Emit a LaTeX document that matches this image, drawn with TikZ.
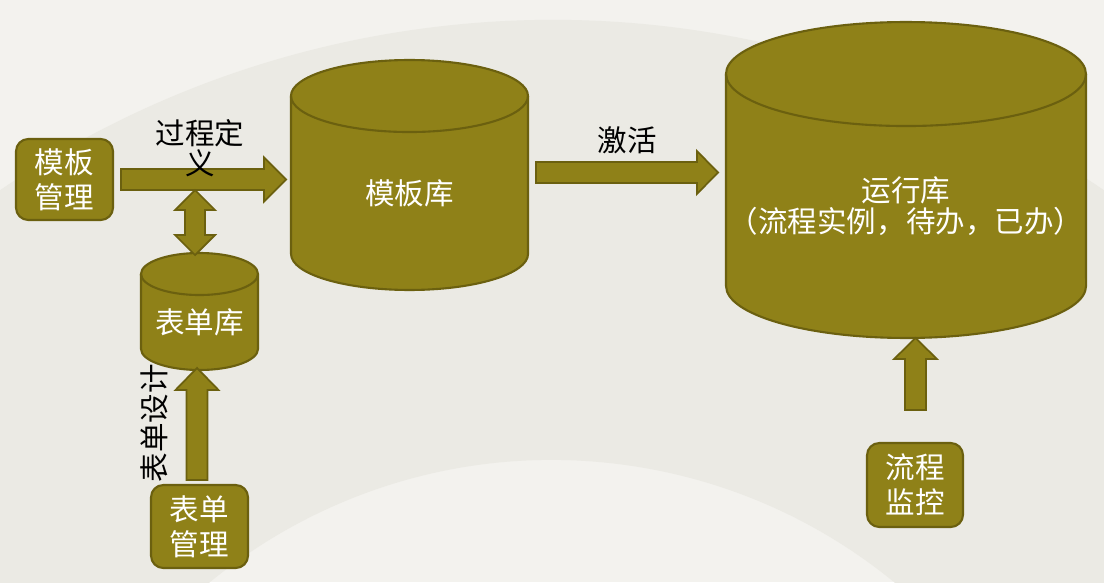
\documentclass[tikz,border=0pt]{standalone}
\usepackage{fontspec}
\setmainfont{Noto Sans CJK SC}
\usetikzlibrary{calc,positioning,backgrounds}
\definecolor{olive}{HTML}{8F8118}
\definecolor{darkolive}{HTML}{6B600F}
\definecolor{paper}{HTML}{F3F2EE}
\definecolor{fanpaper}{HTML}{EBEAE4}

% fat arrow: start, tip, shaft half width, head half width, head length
\newcommand\blockarrow[5]{%
  \coordinate (bas) at (#1);
  \coordinate (bae) at (#2);
  \coordinate (bah) at ($(bae)!#5!(bas)$);
  \draw[blk] ($(bas)!#3!90:(bae)$) -- ($(bah)!#3!90:(bae)$)
    -- ($(bah)!#4!90:(bae)$) -- (bae) -- ($(bah)!#4!-90:(bae)$)
    -- ($(bah)!#3!-90:(bae)$) -- ($(bas)!#3!-90:(bae)$) -- cycle;
}
% fat arrow with a head at both ends
\newcommand\dblarrow[5]{%
  \coordinate (bas) at (#1);
  \coordinate (bae) at (#2);
  \coordinate (bah) at ($(bae)!#5!(bas)$);
  \coordinate (bag) at ($(bas)!#5!(bae)$);
  \draw[blk] (bas) -- ($(bag)!#4!-90:(bae)$) -- ($(bag)!#3!-90:(bae)$)
    -- ($(bah)!#3!-90:(bae)$) -- ($(bah)!#4!-90:(bae)$) -- (bae)
    -- ($(bah)!#4!90:(bae)$) -- ($(bah)!#3!90:(bae)$)
    -- ($(bag)!#3!90:(bae)$) -- ($(bag)!#4!90:(bae)$) -- cycle;
}
% database drum round a body node: node, x radius, y radius
\newcommand\database[3]{%
  \draw[dbshape] (#1.north west) -- ($(#1.south west)+(0,#3)$)
    arc[start angle=180, end angle=360, x radius=#2, y radius=#3]
    -- (#1.north east)
    arc[start angle=0, end angle=180, x radius=#2, y radius=#3] -- cycle;
  \draw[dbshape, fill=none] (#1.north west)
    arc[start angle=180, end angle=360, x radius=#2, y radius=#3];
}

\begin{document}
\begin{tikzpicture}[
  x=0.02cm, y=0.02cm,
  font=\fontsize{16.8}{20}\selectfont,
  mgr/.style={
    draw=darkolive,
    line width=1.2pt,
    fill=olive,
    rounded corners=7pt,
    text=white,
    align=center,
    inner sep=0pt
  },
  db/.style={
    text=white,
    align=center,
    inner sep=0pt,
    outer sep=0pt
  },
  dbshape/.style={draw=darkolive, line width=1.2pt, fill=olive},
  blk/.style={draw=darkolive, line width=1pt, fill=olive},
  lbl/.style={text=black, align=center, inner sep=0pt}
]
\useasboundingbox (0,0) rectangle (1104,582);

\node[mgr, minimum width=1.94cm, minimum height=1.62cm] (tplmgr) at (64.5,402.5) {模板\\管理};
\node[mgr, minimum width=1.94cm, minimum height=1.66cm] (formmgr) at (199.5,55.5) {表单\\管理};
\node[mgr, minimum width=1.92cm, minimum height=1.68cm] (monitor) at (915,97) {流程\\监控};

\node[db, minimum width=4.74cm, minimum height=3.88cm] (tpldb) at (409.5,389) {模板库};
\node[db, minimum width=2.34cm, minimum height=1.92cm] (formdb) at (199.5,260) {表单库};
\node[db, minimum width=7.2cm, minimum height=5.28cm, font=\fontsize{16.8}{17.6}\selectfont] (rundb) at (906,376) {运行库\\（流程实例，待办，已办）};

\begin{pgfonlayer}{background}
  \fill[paper] (0,0) rectangle (1104,582);
  \begin{scope}
    \clip (0,0) rectangle (1104,582);
    \fill[fanpaper] ([shift={(10:980)}]552,-418) arc[start angle=10, end angle=170, radius=980]
      -- ([shift={(170:540)}]552,-418) arc[start angle=170, end angle=10, radius=540] -- cycle;
  \end{scope}
  \database{tpldb}{118.5}{36}
  \database{formdb}{58.5}{21}
  \database{rundb}{180}{52}
\end{pgfonlayer}

\blockarrow{$(tplmgr.east)+(7,0)$}{$(tplmgr.east -| tpldb.west)+(-5,0)$}{6pt}{12.5pt}{12.5pt}
\blockarrow{$(tpldb.east)+(8,20.5)$}{$(rundb.west |- tpldb.east)+(-8,20.5)$}{6pt}{12.2pt}{12pt}
\dblarrow{$(formdb.north)+(-4.5,19)$}{$(formdb.north)+(-4.5,84)$}{5.7pt}{11.4pt}{11.4pt}
\blockarrow{$(formmgr.north)+(-2.5,4)$}{$(formdb.south)+(-2.5,2)$}{6pt}{12.2pt}{12.5pt}
\blockarrow{$(monitor.north)+(0.5,32)$}{$(monitor.north |- rundb.south)+(0.5,0)$}{6pt}{12.2pt}{12pt}

\node[lbl, font=\fontsize{16.8}{17}\selectfont] (deflbl) at (200,434) {过程定\\义};
\node[lbl] (actlbl) at (627,442) {激活};
\node[lbl, rotate=90] (designlbl) at (154,159) {表单设计};
\end{tikzpicture}
\end{document}
